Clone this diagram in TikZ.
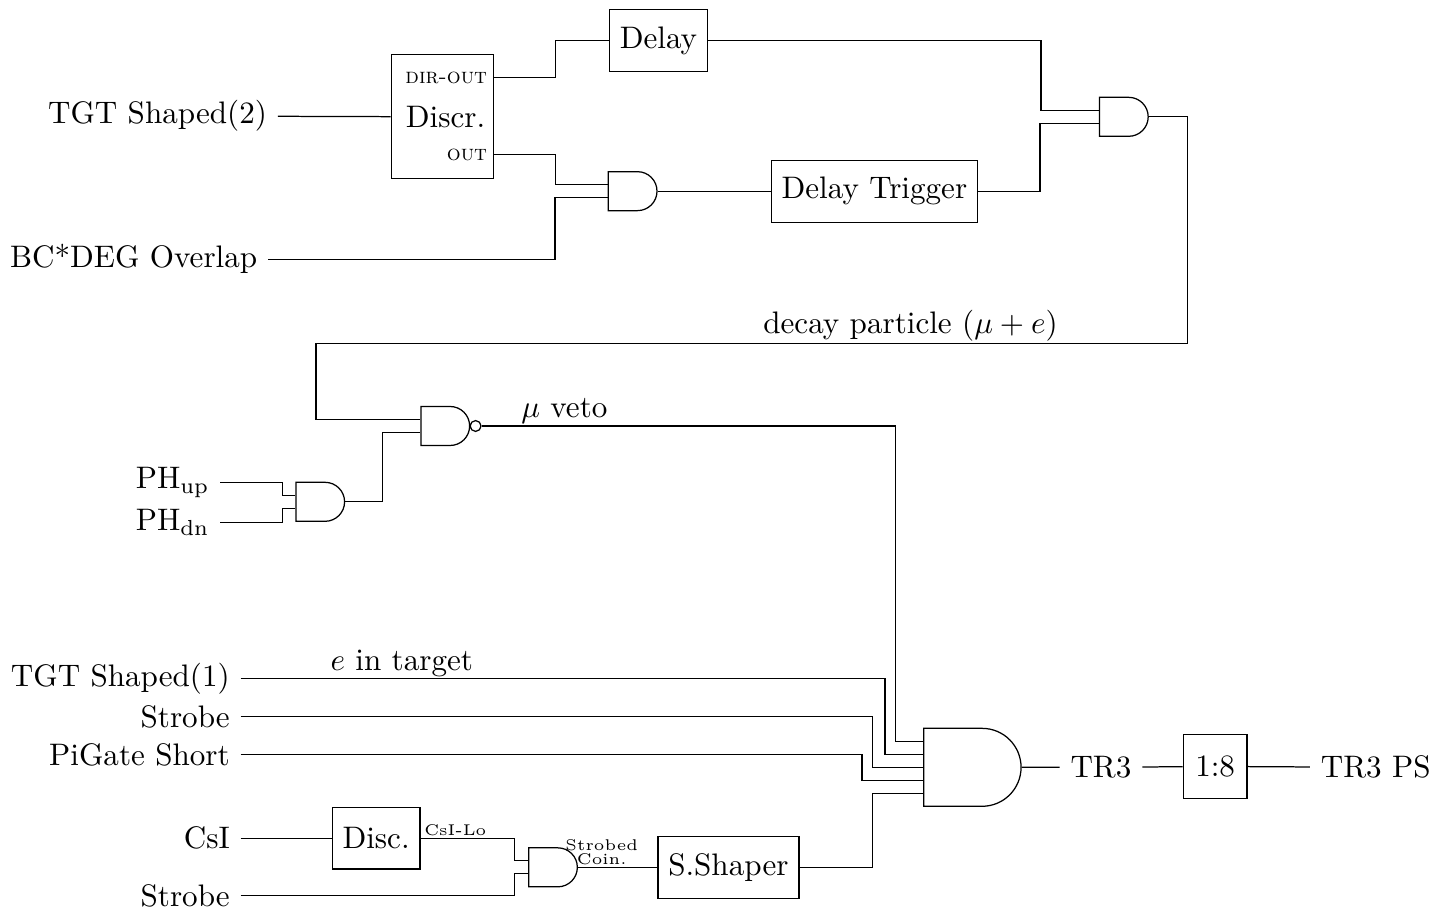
\documentclass[tikz,border=0pt]{standalone}
\usetikzlibrary{shapes.gates.logic.US}
\begin{document}
\begin{tikzpicture}[scale=1.0,
    blockbox/.style={draw, minimum height=0.7cm},
    gateshape/.style={draw, logic gate inputs=nn, transform shape, scale=0.87},
    siglabel/.style={above, inner sep=0.5pt}]
  \useasboundingbox (0,0) rectangle (16.395,-10.316);
  % upper part: decay particle
  \node[anchor=east] (tgtb) at (3.14,-1.31) {TGT Shaped(2)};
  \node[anchor=east] (bcdeg) at (3.03,-2.93) {BC*DEG Overlap};
  \node[draw, minimum width=1.16cm, minimum height=1.40cm] (discr) at (5.00,-1.32) {};
  \node[anchor=east, inner sep=2pt] (discrtxt) at (5.56,-1.32) {Discr.};
  \node[anchor=east, inner sep=2pt, font=\scriptsize] (dirout) at (5.58,-0.88) {\textsc{dir-out}};
  \node[anchor=east, inner sep=2pt, font=\scriptsize] (discrout) at (5.58,-1.75) {\textsc{out}};
  \node[blockbox] (delay) at (7.44,-0.46) {Delay};
  \node[and gate US, gateshape] (gA) at (7.13,-2.16) {};
  \node[blockbox] (dtrig) at (9.88,-2.16) {Delay Trigger};
  \node[and gate US, gateshape] (gB) at (12.68,-1.32) {};
  \draw (tgtb) -- (discr);
  \draw (discr.east |- dirout) -- ++(0.69,0) |- (delay.west);
  \draw (discr.east |- discrout) -- ++(0.69,0) |- (gA.input 1);
  \draw (bcdeg.east) -- ++(3.24,0) |- (gA.input 2);
  \draw (gA.output) -- (dtrig);
  \draw (delay.east) -- ++(3.76,0) |- (gB.input 1);
  \draw (dtrig.east) -- ++(0.70,0) |- (gB.input 2);
  % middle part: muon veto
  \node[nand gate US, gateshape, anchor=input 1] (nand) at (4.75,-4.74) {};
  \node[anchor=east] (phup) at (2.49,-5.45) {PH$_{\mathrm{up}}$};
  \node[anchor=east] (phdn) at (2.49,-5.905) {PH$_{\mathrm{dn}}$};
  \node[and gate US, gateshape] (gC) at (3.60,-5.67) {};
  \draw (gB.output) -- ++(0.44,0) |- node[siglabel, pos=0.659] {decay particle $(\mu+e)$} (3.57,-3.88)
    |- (nand.input 1);
  \draw (phup.east) -- ++(0.70,0) |- (gC.input 1);
  \draw (phdn.east) -- ++(0.70,0) |- (gC.input 2);
  \draw (gC.output) -- ++(0.42,0) |- (nand.input 2);
  % lower part: trigger
  \coordinate (jVeto) at (10.12,0);
  \coordinate (jTgt) at (10.00,0);
  \coordinate (jStrobe) at (9.86,0);
  \coordinate (jPi) at (9.74,0);
  \coordinate (jCsi) at (5.81,0);
  \node[and gate US, gateshape, logic gate inputs=nnnnn] (gD) at (10.95,-8.67) {};
  \node[anchor=east] (tgta) at (2.72,-7.67) {TGT Shaped(1)};
  \node[anchor=east] (strobeA) at (2.72,-8.10) {Strobe};
  \node[anchor=east] (pigate) at (2.72,-8.525) {PiGate Short};
  \node[anchor=east] (csi) at (2.72,-9.47) {CsI};
  \node[anchor=east] (strobeB) at (2.72,-10.12) {Strobe};
  \node[blockbox] (disc) at (4.25,-9.47) {Disc.};
  \node[and gate US, gateshape] (gE) at (6.23,-9.80) {};
  \node[blockbox] (shaper) at (8.23,-9.80) {S.Shaper};
  \node (tr3) at (12.44,-8.67) {TR3};
  \node[draw, minimum size=0.72cm] (prescale) at (13.73,-8.66) {1:8};
  \node[anchor=west] (tr3ps) at (14.80,-8.67) {TR3 PS};
  \draw (nand.output) -- node[siglabel, pos=0.2] {$\mu$ veto} (nand.output -| jVeto) |- (gD.input 1);
  \draw (tgta) -- node[siglabel, pos=0.25] {$e$ in target} (tgta -| jTgt) |- (gD.input 2);
  \draw (strobeA) -- (strobeA -| jStrobe) |- (gD.input 3);
  \draw (pigate) -- (pigate -| jPi) |- (gD.input 4);
  \draw (shaper.east) -- (shaper.east -| jStrobe) |- (gD.input 5);
  \draw (csi) -- (disc);
  \draw (disc.east) -- node[siglabel, pos=0.37, font=\tiny] {CsI-Lo} (disc.east -| jCsi) |- (gE.input 1);
  \draw (strobeB) -- (strobeB -| jCsi) |- (gE.input 2);
  \draw (gE.output) -- node[siglabel, pos=0.3, font=\tiny, align=center] {Strobed\\[-1.5pt]Coin.} (shaper);
  \draw (gD.output) -- (tr3) -- (prescale) -- (tr3ps);
\end{tikzpicture}
\end{document}
